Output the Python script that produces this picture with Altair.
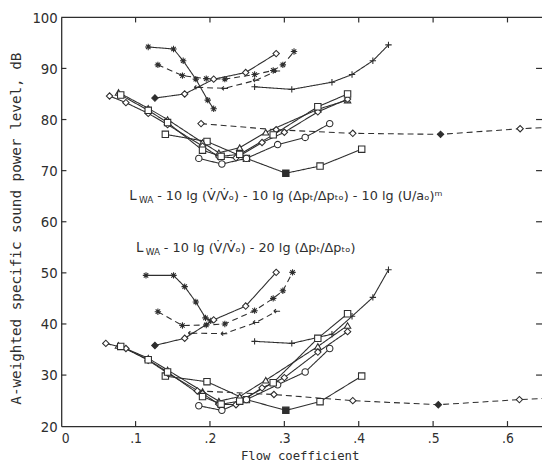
import altair as alt
import pandas as pd

# ---------------- data ----------------
# upper family : L_WA - 10lg(V/V0) - 10lg(dp/dp0) - 10lg(U/a0)^m
# lower family : L_WA - 10lg(V/V0) - 20lg(dp/dp0)

star_solid_x_u = [0.117, 0.151, 0.164, 0.181, 0.197, 0.205]
star_solid_y_u = [94.2, 93.8, 91.5, 87.9, 83.8, 82.1]
star_solid_x_l = [0.114, 0.151, 0.166, 0.181, 0.194, 0.201]
star_solid_y_l = [49.5, 49.5, 47.3, 44.3, 41.2, 40.6]

star_dash_x_u = [0.130, 0.163, 0.195, 0.220, 0.260, 0.285, 0.298, 0.313]
star_dash_y_u = [90.7, 88.6, 88.0, 87.9, 88.8, 89.6, 90.7, 93.3]
star_dash_x_l = [0.130, 0.163, 0.195, 0.220, 0.260, 0.285, 0.298, 0.311]
star_dash_y_l = [42.4, 39.7, 39.8, 40.0, 42.6, 45.0, 46.5, 50.1]

dia_rise_x_u = [0.126, 0.166, 0.205, 0.248, 0.289]
dia_rise_y_u = [84.2, 85.0, 87.9, 89.2, 92.9]
dia_rise_x_l = [0.126, 0.166, 0.205, 0.248, 0.289]
dia_rise_y_l = [35.8, 37.2, 40.8, 43.5, 50.1]

arrow_dash_x_u = [0.183, 0.220, 0.262, 0.290]
arrow_dash_y_u = [86.3, 86.1, 87.7, 89.5]
arrow_dash_x_l = [0.175, 0.219, 0.262, 0.290]
arrow_dash_y_l = [38.2, 38.1, 40.3, 42.5]

plus_x_u = [0.260, 0.310, 0.364, 0.391, 0.419, 0.440]
plus_y_u = [86.4, 85.9, 87.3, 88.8, 91.5, 94.6]
plus_x_l = [0.260, 0.310, 0.364, 0.391, 0.419, 0.440]
plus_y_l = [36.6, 36.2, 38.0, 41.5, 45.2, 50.6]

sq_x_u = [0.140, 0.196, 0.249, 0.302, 0.348, 0.404]
sq_y_u = [77.1, 75.7, 72.4, 69.5, 70.9, 74.2]
sq_x_l = [0.140, 0.196, 0.249, 0.302, 0.348, 0.404]
sq_y_l = [29.8, 28.7, 25.2, 23.1, 24.8, 29.8]

circ_x_u = [0.185, 0.216, 0.249, 0.291, 0.328, 0.361]
circ_y_u = [72.4, 71.3, 72.4, 75.1, 76.5, 79.2]
circ_x_l = [0.185, 0.216, 0.249, 0.291, 0.328, 0.361]
circ_y_l = [24.0, 23.1, 25.2, 28.1, 30.6, 35.2]

dia_dash_x_u = [0.188, 0.289, 0.392, 0.510, 0.617, 0.700]
dia_dash_y_u = [79.2, 78.0, 77.3, 77.1, 78.2, 78.8]
dia_dash_x_l = [0.183, 0.286, 0.392, 0.507, 0.616, 0.700]
dia_dash_y_l = [26.9, 26.2, 25.0, 24.2, 25.2, 25.8]

tri_x_u = [0.077, 0.117, 0.143, 0.190, 0.212, 0.240, 0.275, 0.345, 0.385]
tri_y_u = [85.3, 82.2, 80.0, 75.5, 73.5, 74.5, 77.5, 82.0, 83.8]
tri_x_l = [0.077, 0.117, 0.143, 0.190, 0.212, 0.240, 0.275, 0.345, 0.385]
tri_y_l = [35.8, 33.3, 31.0, 26.8, 24.9, 25.8, 29.0, 35.6, 39.7]

dia_b_x_u = [0.065, 0.087, 0.117, 0.143, 0.190, 0.212, 0.235, 0.270, 0.300, 0.345, 0.385]
dia_b_y_u = [84.6, 83.3, 81.2, 79.0, 74.8, 72.7, 72.5, 75.5, 77.5, 81.5, 84.0]
dia_b_x_l = [0.060, 0.087, 0.117, 0.143, 0.190, 0.212, 0.235, 0.270, 0.300, 0.345, 0.385]
dia_b_y_l = [36.2, 35.2, 32.9, 30.4, 26.4, 24.3, 24.2, 27.5, 29.5, 34.5, 38.5]

sqx_x_u = [0.080, 0.117, 0.143, 0.190, 0.215, 0.240, 0.285, 0.345, 0.385]
sqx_y_u = [84.8, 81.8, 79.4, 74.0, 72.8, 73.2, 77.0, 82.5, 85.0]
sqx_x_l = [0.080, 0.117, 0.143, 0.190, 0.215, 0.240, 0.285, 0.345, 0.385]
sqx_y_l = [35.6, 33.0, 30.6, 25.8, 24.3, 24.9, 28.5, 37.2, 42.0]

x_labels = [0, 0.1, 0.2, 0.3, 0.4, 0.5, 0.6]
y_labels = [20, 30, 40, 50, 60, 70, 80, 90, 100]
x_ticks = [0.1, 0.2, 0.3, 0.4, 0.5, 0.6]
y_ticks = [30, 40, 50, 60, 70, 80, 90]

# ---------------- build table ----------------
STAR = "M-1,0L1,0M0,-1L0,1M-0.7,-0.7L0.7,0.7M-0.7,0.7L0.7,-0.7"
PLUS = "M-1,0L1,0M0,-1L0,1"
ARROW = "M-1,0L1,0M-1,0L-0.3,-0.6M-1,0L-0.3,0.6"

series = [
    ("star_solid", star_solid_x_u, star_solid_y_u, star_solid_x_l, star_solid_y_l, "star", "solid"),
    ("star_dash", star_dash_x_u, star_dash_y_u, star_dash_x_l, star_dash_y_l, "star", "dashed"),
    ("dia_rise", dia_rise_x_u, dia_rise_y_u, dia_rise_x_l, dia_rise_y_l, "diamond", "solid"),
    ("arrow_dash", arrow_dash_x_u, arrow_dash_y_u, arrow_dash_x_l, arrow_dash_y_l, "arrow", "dashed"),
    ("plus", plus_x_u, plus_y_u, plus_x_l, plus_y_l, "plus", "solid"),
    ("sq", sq_x_u, sq_y_u, sq_x_l, sq_y_l, "square", "solid"),
    ("circ", circ_x_u, circ_y_u, circ_x_l, circ_y_l, "circle", "solid"),
    ("dia_dash", dia_dash_x_u, dia_dash_y_u, dia_dash_x_l, dia_dash_y_l, "diamond", "dashed"),
    ("tri", tri_x_u, tri_y_u, tri_x_l, tri_y_l, "triangle-up", "solid"),
    ("dia_b", dia_b_x_u, dia_b_y_u, dia_b_x_l, dia_b_y_l, "diamond", "solid"),
    ("sqx", sqx_x_u, sqx_y_u, sqx_x_l, sqx_y_l, "square", "solid"),
]
filled_pts = {("dia_rise", 0), ("dia_dash", 3), ("sq", 3), ("star_dash", 3)}

rows = []
for name, xu, yu, xl, yl, mk, dash in series:
    for grp, xs_, ys_ in (("u", xu, yu), ("l", xl, yl)):
        for i, (xv, yv) in enumerate(zip(xs_, ys_)):
            rows.append(dict(series=f"{name}_{grp}", x=xv, y=yv, i=i, marker=mk, dash=dash,
                             fill="filled" if (name, i) in filled_pts else "open"))
df = pd.DataFrame(rows)

INK = "#2e2e2e"
XMAX = 0.6464
xs = alt.Scale(domain=[0, XMAX], nice=False, zero=False)
ys = alt.Scale(domain=[20, 100], nice=False, zero=False)

X_AXIS = alt.Axis(values=x_labels, grid=False, ticks=False,
                  labelExpr="datum.value == 0 ? '0' : replace(format(datum.value, '.1f'), '0.', '.')",
                  domainColor=INK, domainWidth=1.3, labelPadding=6,
                  titleX=242, titleY=30, titleBaseline="middle")
Y_AXIS = alt.Axis(values=y_labels, grid=False, ticks=False,
                  domainColor=INK, domainWidth=1.3, labelPadding=4,
                  titleX=-45, titleY=214, titleBaseline="middle")
X_TITLE = "Flow coefficient"
Y_TITLE = "A-weighted specific sound power level, dB"


def xenc(field="x:Q"):
    return alt.X(field, scale=xs, axis=X_AXIS, title=X_TITLE)


def yenc(field="y:Q"):
    return alt.Y(field, scale=ys, axis=Y_AXIS, title=Y_TITLE)


lines = alt.Chart(df).mark_line(color=INK, strokeWidth=1.1, clip=True).encode(
    x=xenc(), y=yenc(),
    detail="series:N",
    order="i:Q",
    strokeDash=alt.StrokeDash("dash:N", scale=alt.Scale(domain=["solid", "dashed"], range=[[1, 0], [6, 4]]), legend=None),
)

points = alt.Chart(df).mark_point(filled=True, stroke=INK, strokeWidth=1.1, size=42, clip=True, opacity=1).encode(
    x=xenc(), y=yenc(),
    shape=alt.Shape("marker:N", scale=alt.Scale(
        domain=["star", "plus", "arrow", "diamond", "square", "circle", "triangle-up"],
        range=[STAR, PLUS, ARROW, "diamond", "square", "circle", "triangle-up"]), legend=None),
    fill=alt.Fill("fill:N", scale=alt.Scale(domain=["open", "filled"], range=["white", INK]), legend=None),
)

# frame top line and inward ticks
top = alt.Chart(pd.DataFrame({"y": [100]})).mark_rule(color=INK, strokeWidth=1.3).encode(y=yenc())
tick_x = pd.DataFrame({"x": x_ticks})
tick_y = pd.DataFrame({"y": y_ticks})
bt = alt.Chart(tick_x).mark_rule(color=INK, strokeWidth=1.2).encode(
    x=xenc(), y=alt.datum(20), y2=alt.datum(21.0))
tt = alt.Chart(tick_x).mark_rule(color=INK, strokeWidth=1.2).encode(
    x=xenc(), y=alt.datum(99.0), y2=alt.datum(100))
lt = alt.Chart(tick_y).mark_rule(color=INK, strokeWidth=1.2).encode(
    y=yenc(), x=alt.datum(0), x2=alt.datum(0.007))
rt = alt.Chart(tick_y).mark_rule(color=INK, strokeWidth=1.2).encode(
    y=yenc(), x=alt.datum(XMAX - 0.008), x2=alt.datum(XMAX))

# formula annotations
FF = "DejaVu Sans, sans-serif"
ann = pd.DataFrame([
    dict(x=0.0914, y=65.1, t="L", s=13.5),
    dict(x=0.1045, y=64.2, t="WA", s=9),
    dict(x=0.1290, y=65.1, t="-  10 lg (V\u0307/V\u0307\u2092)  -  10 lg (\u0394p\u209c/\u0394p\u209c\u2092)  -  10 lg (U/a\u2092)\u1d50", s=13),
    dict(x=0.1007, y=54.9, t="L", s=13.5),
    dict(x=0.1138, y=54.0, t="WA", s=9),
    dict(x=0.1380, y=54.9, t="-  10 lg (V\u0307/V\u0307\u2092)  -  20 lg (\u0394p\u209c/\u0394p\u209c\u2092)", s=13),
])
texts = alt.Chart(ann).mark_text(align="left", baseline="middle", font=FF, color=INK).encode(
    x=xenc(), y=yenc(),
    text="t:N", size=alt.Size("s:Q", scale=None, legend=None))

chart = alt.layer(lines, points, top, bt, tt, lt, rt, texts).properties(
    width=488, height=415,
    padding={"left": 54, "top": 6, "right": 0, "bottom": 40},
    autosize=alt.AutoSizeParams(type="none"),
    background="white",
).configure_view(stroke=None).configure_axis(
    labelFont="Liberation Sans Narrow, DejaVu Sans Condensed, sans-serif",
    labelFontSize=15, labelColor=INK,
    titleFont="DejaVu Sans Mono, monospace", titleFontWeight="normal", titleColor=INK,
).configure_axisX(titleFontSize=12.5, labelFontSize=14).configure_axisY(titleFontSize=14.5)

chart.save("out.html", embed_options={"renderer": "svg", "actions": False})
